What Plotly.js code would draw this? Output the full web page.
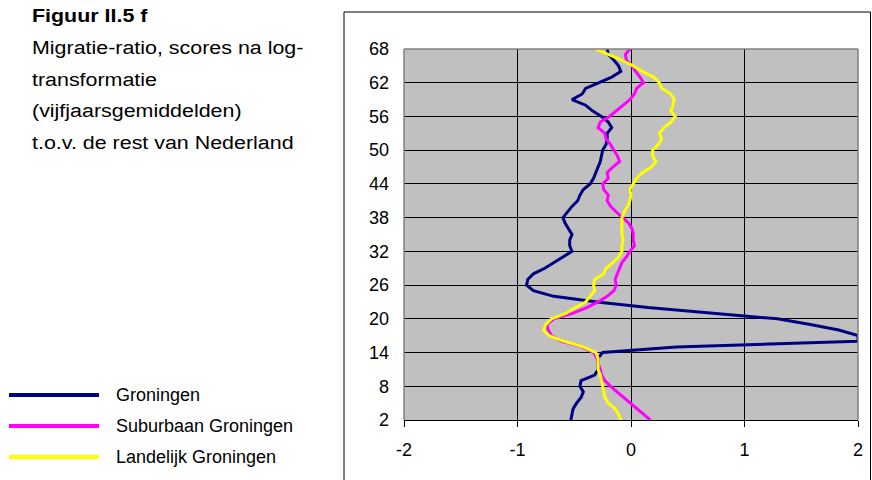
<!DOCTYPE html>
<html>
<head>
<meta charset="utf-8">
<script src="https://cdn.plot.ly/plotly-3.0.1.min.js"></script>
<style>html,body{margin:0;padding:0;background:#fff;}#chart{width:872px;height:480px;}</style>
</head>
<body>
<div id="chart"></div>
<script>
// Ages (leeftijd) 2..68
const ages = [2,3,4,5,6,7,8,9,10,11,12,13,14,15,16,17,18,19,20,21,22,23,24,25,26,27,28,29,30,31,32,33,34,35,36,37,38,39,40,41,42,43,44,45,46,47,48,49,50,51,52,53,54,55,56,57,58,59,60,61,62,63,64,65,66,67,68];

const groningen = [-0.53,-0.52,-0.51,-0.48,-0.44,-0.42,-0.45,-0.44,-0.32,-0.29,-0.29,-0.29,-0.25,0.40,2.00,2.00,1.83,1.58,1.29,0.72,0.15,-0.30,-0.68,-0.86,-0.92,-0.91,-0.86,-0.76,-0.68,-0.59,-0.52,-0.54,-0.54,-0.52,-0.55,-0.58,-0.60,-0.56,-0.52,-0.47,-0.45,-0.42,-0.36,-0.33,-0.31,-0.29,-0.27,-0.26,-0.25,-0.22,-0.21,-0.21,-0.17,-0.20,-0.26,-0.34,-0.40,-0.52,-0.43,-0.40,-0.29,-0.17,-0.09,-0.11,-0.15,-0.20,-0.21];

const suburbaan = [0.17,0.11,0.05,-0.01,-0.07,-0.12,-0.18,-0.23,-0.26,-0.27,-0.29,-0.30,-0.33,-0.43,-0.61,-0.70,-0.73,-0.74,-0.68,-0.51,-0.39,-0.29,-0.21,-0.15,-0.13,-0.14,-0.12,-0.10,-0.08,-0.04,-0.01,0.03,0.02,0.02,0.01,-0.02,-0.08,-0.13,-0.18,-0.21,-0.20,-0.24,-0.25,-0.20,-0.21,-0.16,-0.10,-0.12,-0.15,-0.18,-0.22,-0.23,-0.29,-0.27,-0.19,-0.13,-0.08,-0.01,0.03,0.05,0.11,0.08,0.04,0.01,-0.04,-0.05,-0.01];

const landelijk = [-0.09,-0.11,-0.14,-0.20,-0.23,-0.24,-0.25,-0.26,-0.27,-0.29,-0.29,-0.29,-0.31,-0.42,-0.59,-0.72,-0.77,-0.75,-0.70,-0.57,-0.49,-0.40,-0.36,-0.32,-0.33,-0.32,-0.24,-0.22,-0.16,-0.11,-0.08,-0.08,-0.07,-0.08,-0.08,-0.08,-0.08,-0.06,-0.03,-0.01,0.00,-0.01,0.02,0.05,0.10,0.18,0.22,0.19,0.19,0.24,0.27,0.25,0.29,0.35,0.39,0.35,0.37,0.38,0.35,0.27,0.25,0.20,0.10,0.02,-0.08,-0.20,-0.31];

const seriesNames = ['Groningen','Suburbaan Groningen','Landelijk Groningen'];
const seriesColors = ['#000080','#FF00FF','#FFFF00'];
const yTicks = [2,8,14,20,26,32,38,44,50,56,62,68];
const xTicks = [-2,-1,0,1,2];

const figureLabel = 'Figuur II.5 f';
const titleLines = ['Migratie-ratio, scores na log-','transformatie','(vijfjaarsgemiddelden)','t.o.v. de rest van Nederland'];

const FONT = 'Liberation Sans, Arial, sans-serif';
const L = 404, R = 14, T = 49, B = 60, WID = 872, HEI = 480;
const PW = WID - L - R, PH = HEI - T - B;
const px = v => (v - L) / PW;
const py = v => (HEI - B - v) / PH;

const data = [groningen, suburbaan, landelijk].map((vals, i) => ({
  type: 'scatter', mode: 'lines', x: vals, y: ages, name: seriesNames[i],
  line: {color: seriesColors[i], width: 3}, showlegend: false, hoverinfo: 'skip'
}));

const annotations = [];
annotations.push({xref:'paper', yref:'paper', x: px(30), y: py(16), xanchor:'left', yanchor:'middle', align:'left',
  text:'<b>' + figureLabel + '</b>', showarrow:false, font:{family:FONT, size:18, color:'#000'}});
titleLines.forEach((t, i) => annotations.push({xref:'paper', yref:'paper', x: px(30), y: py(48 + i*31.7),
  xanchor:'left', yanchor:'middle', align:'left', text:t, showarrow:false, font:{family:FONT, size:18, color:'#000'}}));
seriesNames.forEach((n, i) => annotations.push({xref:'paper', yref:'paper', x: px(114), y: py(395 + i*31),
  xanchor:'left', yanchor:'middle', align:'left', text:n, showarrow:false, font:{family:FONT, size:18, color:'#000'}}));

const shapes = [];
seriesColors.forEach((c, i) => shapes.push({type:'line', xref:'paper', yref:'paper',
  x0: px(9), x1: px(99), y0: py(395 + i*31), y1: py(395 + i*31), line:{color:c, width:4}}));
// outer chart frame
shapes.push({type:'rect', xref:'paper', yref:'paper', x0: px(344), x1: px(870.5), y0: py(495), y1: py(12),
  line:{color:'#000', width:1}, layer:'above'});
// plot area border (grey)
shapes.push({type:'line', xref:'paper', yref:'paper', x0:0, x1:1, y0:1, y1:1, line:{color:'#808080', width:1.5}, layer:'above'});
shapes.push({type:'line', xref:'paper', yref:'paper', x0:0, x1:0, y0:0, y1:1, line:{color:'#808080', width:1.5}, layer:'above'});
shapes.push({type:'line', xref:'paper', yref:'paper', x0:1, x1:1, y0:0, y1:1, line:{color:'#808080', width:1.5}, layer:'above'});

const layout = {
  width: WID, height: HEI,
  margin: {l: L, r: R, t: T, b: B, pad: 0},
  paper_bgcolor: '#fff', plot_bgcolor: '#C0C0C0',
  showlegend: false,
  font: {family: FONT, size: 18, color: '#000'},
  xaxis: {range: [-2, 2], tickvals: xTicks, ticktext: xTicks.map(String), showgrid: true, gridcolor: '#000', gridwidth: 1,
    zeroline: false, showline: true, linecolor: '#000', linewidth: 1, ticks: 'outside', ticklen: 6, tickcolor: '#000',
    tickfont: {family: FONT, size: 18, color: '#000'}, ticklabelstandoff: 7, fixedrange: true},
  yaxis: {range: [2, 68], tickvals: yTicks, ticktext: yTicks.map(String), showgrid: true, gridcolor: '#000', gridwidth: 1,
    zeroline: false, showline: false, ticks: '', tickfont: {family: FONT, size: 18, color: '#000'},
    ticklabelstandoff: 14, fixedrange: true},
  annotations: annotations,
  shapes: shapes
};

// the caption text in the original is set wider than plain Arial; stretch it horizontally
const stretchTexts = [figureLabel].concat(titleLines);
const STRETCH = 1.19;

Plotly.newPlot('chart', data, layout, {staticPlot: true, displayModeBar: false}).then(gd => {
  gd.querySelectorAll('text.annotation-text').forEach(t => {
    if (stretchTexts.indexOf(t.textContent) >= 0) {
      const w = t.getComputedTextLength();
      t.setAttribute('textLength', (w * STRETCH).toFixed(1));
      t.setAttribute('lengthAdjust', 'spacingAndGlyphs');
    }
  });
});
</script>
</body>
</html>
